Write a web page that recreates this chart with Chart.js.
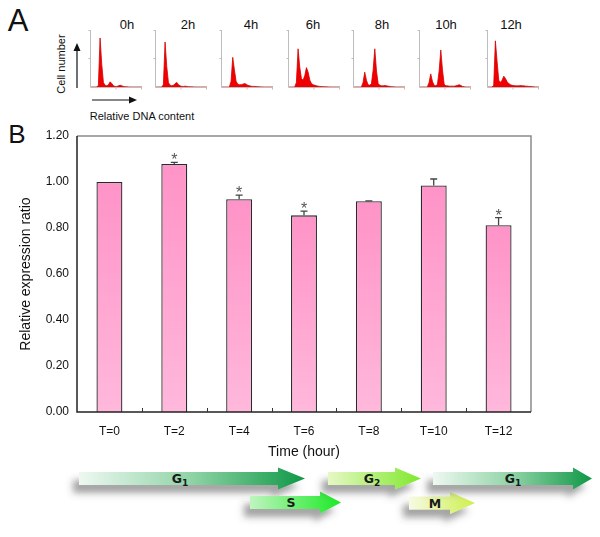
<!DOCTYPE html>
<html>
<head>
<meta charset="utf-8">
<script src="https://cdn.jsdelivr.net/npm/chart.js@4.4.1/dist/chart.umd.min.js"></script>
<style>
  html, body { margin: 0; padding: 0; background: #fff; }
  #page { position: relative; width: 600px; height: 537px; overflow: hidden;
          font-family: "Liberation Sans", Arial, sans-serif; color: #111; }
  .lbl { position: absolute; white-space: nowrap; transform: translate(-50%, -50%); }
  canvas { position: absolute; }
  svg { position: absolute; left: 0; top: 0; }
</style>
</head>
<body>
<div id="page">
  <div class="lbl" style="left:18px;top:21px;font-size:31px;">A</div>
  <div class="lbl" style="left:17px;top:134px;font-size:26px;">B</div>
  <div class="lbl" style="left:61px;top:64px;font-size:11px;transform:translate(-50%,-50%) rotate(-90deg);">Cell number</div>
  <div class="lbl" style="left:142px;top:116px;font-size:11px;">Relative DNA content</div>

  <svg width="600" height="537">
    <defs>
      <linearGradient id="gG1" x1="0" x2="1" y1="0" y2="0">
        <stop offset="0" stop-color="#eef8f1"/>
        <stop offset="0.5" stop-color="#8fd3a5"/>
        <stop offset="1" stop-color="#0e9846"/>
      </linearGradient>
      <linearGradient id="gS" x1="0" x2="1" y1="0" y2="0">
        <stop offset="0" stop-color="#c0f5c0"/>
        <stop offset="1" stop-color="#1bea24"/>
      </linearGradient>
      <linearGradient id="gG2" x1="0" x2="1" y1="0" y2="0">
        <stop offset="0" stop-color="#e6f8c4"/>
        <stop offset="1" stop-color="#7fe82c"/>
      </linearGradient>
      <linearGradient id="gM" x1="0" x2="1" y1="0" y2="0">
        <stop offset="0" stop-color="#f8fae4"/>
        <stop offset="1" stop-color="#cdf04c"/>
      </linearGradient>
      <filter id="sh" x="-20%" y="-60%" width="140%" height="260%">
        <feDropShadow dx="-6" dy="8" stdDeviation="3.5" flood-color="#444" flood-opacity="0.5"/>
      </filter>
    </defs>
    <!-- axis arrows of panel A -->
    <line x1="77" y1="88" x2="77" y2="50" stroke="#111" stroke-width="1.2"/>
    <polygon points="77,43 73.5,51 80.5,51" fill="#111"/>
    <line x1="92" y1="100" x2="130" y2="100" stroke="#111" stroke-width="1.2"/>
    <polygon points="137,100 129,96.5 129,103.5" fill="#111"/>
    <g id="phases"></g>
  </svg>

  <canvas id="bars" width="600" height="345" style="left:0;top:120px;width:600px;height:345px;"></canvas>
</div>

<script>
// panel B
const timeLabels = ['T=0', 'T=2', 'T=4', 'T=6', 'T=8', 'T=10', 'T=12'];
const ratio      = [1.00, 1.078, 0.925, 0.855, 0.916, 0.985, 0.812];
const ratioErr   = [0, 0.007, 0.018, 0.018, 0.002, 0.028, 0.033];
const signif     = ['', '*', '*', '*', '', '', '*'];

// panel A, flow cytometry histograms (cell count per DNA channel)
const hours    = ['0h', '2h', '4h', '6h', '8h', '10h', '12h'];
const channels = [0, 32, 64, 96, 128, 160, 192, 224, 256, 288, 320, 352, 384, 416, 448, 480,
                  512, 544, 576, 608, 640, 672, 704, 736, 768, 800, 832, 864, 896, 928, 960, 992];
const h0  = [0,0,0,0,0,3,86,40,8,3,2,4,9,6,2,1,1,2,3,2,1,0.5,0.3,0.2,0,0,0,0,0,0,0,0];
const h2  = [0,0,0,0,0,4,79,36,8,3,2,3,6,8,4,2,1,1,1.5,1,0.5,0.4,0.3,0.2,0.1,0,0,0,0,0,0,0];
const h4  = [0,0,0,0,0,0,10,52,30,10,5,4,4,5,6,5,3,2,1.5,1,1,0.8,0.5,0.3,0.2,0.1,0,0,0,0,0,0];
const h6  = [0,0,0,0,0,8,67,35,15,12,20,34,26,12,6,4,3,2,1.5,1,0.8,0.5,0.4,0.3,0.2,0.1,0,0,0,0,0,0];
const h8  = [0,0,0,0,0,0,8,26,12,4,3,6,30,67,28,6,3,2,2,2.5,2,1.5,1,0.5,0.3,0.2,0,0,0,0,0,0];
const h10 = [0,0,0,0,0,0,8,23,10,3,2,5,28,65,30,5,2,2,1.5,1.5,1.5,1.5,2,3,4,2.5,1,0.3,0,0,0,0];
const h12 = [0,0,0,0,3,81,45,12,8,12,19,15,9,6,4,3,2.5,2,2,2,2.5,2,2,1.5,1.5,1,1,0.5,0.3,0,0,0];
const histSeries = [h0, h2, h4, h6, h8, h10, h12];

// cell cycle phases under the x axis
const phaseNames = ['G', 'S', 'G', 'M', 'G'];
const phaseSubs  = ['1', '', '2', '', '1'];

const page = document.getElementById('page');

// ---- small histograms ----
const histLeft  = [90, 155, 221, 288, 353, 419, 487];
const titleX    = [127, 188, 251, 313, 382, 446, 511];

const histAxes = {
  id: 'histAxes',
  afterDraw(chart) {
    const { ctx, chartArea: a } = chart;
    ctx.save();
    ctx.strokeStyle = '#bdbdbd';
    ctx.lineWidth = 1;
    ctx.beginPath();
    ctx.moveTo(a.left + 0.5, a.top);
    ctx.lineTo(a.left + 0.5, a.bottom + 0.5);
    ctx.lineTo(a.right, a.bottom + 0.5);
    // tiny ticks
    ctx.moveTo(a.left - 1.5, a.top + 0.5); ctx.lineTo(a.left + 0.5, a.top + 0.5);
    ctx.moveTo(a.left - 1.5, (a.top + a.bottom) / 2); ctx.lineTo(a.left + 0.5, (a.top + a.bottom) / 2);
    ctx.moveTo((a.left + a.right) / 2, a.bottom + 0.5); ctx.lineTo((a.left + a.right) / 2, a.bottom + 2.5);
    ctx.moveTo(a.right - 0.5, a.bottom + 0.5); ctx.lineTo(a.right - 0.5, a.bottom + 2.5);
    ctx.stroke();
    ctx.restore();
  }
};

hours.forEach((h, i) => {
  const t = document.createElement('div');
  t.className = 'lbl';
  t.style.cssText = `left:${titleX[i]}px;top:24px;font-size:13px;`;
  t.textContent = h;
  page.appendChild(t);

  const c = document.createElement('canvas');
  c.width = 56; c.height = 62;
  c.style.cssText = `left:${histLeft[i] - 2}px;top:28px;width:56px;height:62px;`;
  page.appendChild(c);

  new Chart(c, {
    type: 'line',
    data: {
      labels: channels,
      datasets: [{
        data: histSeries[i],
        borderColor: '#d40000',
        borderWidth: 0.8,
        backgroundColor: '#f00000',
        fill: 'origin',
        pointRadius: 0,
        tension: 0
      }]
    },
    options: {
      responsive: false,
      animation: false,
      layout: { padding: { left: 2, top: 2, right: 2, bottom: 3 } },
      scales: {
        x: { display: false, offset: false },
        y: { display: false, min: 0, max: 100 }
      },
      plugins: { legend: { display: false }, tooltip: { enabled: false } }
    },
    plugins: [histAxes]
  });
});

// ---- bar chart ----
const frame = {
  id: 'frame',
  afterDatasetsDraw(chart) {
    const { ctx, chartArea: a, scales } = chart;
    ctx.save();
    // error bars and stars
    const meta = chart.getDatasetMeta(0);
    meta.data.forEach((bar, i) => {
      const yTop = scales.y.getPixelForValue(ratio[i] + ratioErr[i]);
      ctx.strokeStyle = '#444';
      ctx.lineWidth = 1.3;
      if (ratioErr[i] > 0) {
        ctx.beginPath();
        ctx.moveTo(bar.x, bar.y);
        ctx.lineTo(bar.x, yTop);
        ctx.moveTo(bar.x - 3.5, yTop);
        ctx.lineTo(bar.x + 3.5, yTop);
        ctx.stroke();
      }
      if (signif[i]) {
        ctx.fillStyle = '#555';
        ctx.font = '16px "Liberation Sans", Arial, sans-serif';
        ctx.textAlign = 'center';
        ctx.textBaseline = 'alphabetic';
        ctx.fillText(signif[i], bar.x, yTop + 3);
      }
    });
    // box
    ctx.lineWidth = 1.5;
    ctx.strokeStyle = '#8a8a8a';
    ctx.beginPath();
    ctx.moveTo(a.left, a.top);
    ctx.lineTo(a.right, a.top);
    ctx.lineTo(a.right, a.bottom);
    ctx.stroke();
    ctx.strokeStyle = '#222';
    ctx.beginPath();
    ctx.moveTo(a.left, a.top);
    ctx.lineTo(a.left, a.bottom);
    ctx.lineTo(a.right, a.bottom);
    ctx.stroke();
    // inner ticks between categories
    ctx.lineWidth = 1;
    ctx.strokeStyle = '#333';
    ctx.beginPath();
    for (let i = 0; i < timeLabels.length - 1; i++) {
      const x = Math.round((scales.x.getPixelForValue(i) + scales.x.getPixelForValue(i + 1)) / 2) + 0.5;
      ctx.moveTo(x, a.bottom);
      ctx.lineTo(x, a.bottom - 4);
    }
    ctx.stroke();
    ctx.restore();
  }
};

new Chart(document.getElementById('bars'), {
  type: 'bar',
  data: {
    labels: timeLabels,
    datasets: [{
      data: ratio,
      backgroundColor(ctx) {
        const chart = ctx.chart;
        const a = chart.chartArea;
        if (!a || ctx.raw == null) return '#ffa3d0';
        const top = chart.scales.y.getPixelForValue(ctx.raw);
        const g = chart.ctx.createLinearGradient(0, top, 0, a.bottom);
        g.addColorStop(0, '#ff93c7');
        g.addColorStop(1, '#ffb8db');
        return g;
      },
      borderColor: '#2a2a2a',
      borderWidth: 1.3,
      borderSkipped: 'bottom',
      categoryPercentage: 1,
      barPercentage: 0.4
    }]
  },
  options: {
    responsive: false,
    animation: false,
    layout: { padding: { top: 16, right: 69, left: 0, bottom: 0 } },
    scales: {
      x: {
        grid: { display: false, drawTicks: false },
        border: { display: false },
        ticks: { color: '#111', padding: 12, font: { size: 12, family: '"Liberation Sans", Arial, sans-serif' } },
        title: { display: true, text: 'Time (hour)', color: '#111', padding: { top: 0, bottom: 4 },
                 font: { size: 14, family: '"Liberation Sans", Arial, sans-serif' } },
        afterFit(scale) { scale.height = 53; }
      },
      y: {
        min: 0, max: 1.2,
        grid: { display: false, drawTicks: false },
        border: { display: false },
        ticks: { stepSize: 0.2, color: '#111', padding: 8,
                 font: { size: 12, family: '"Liberation Sans", Arial, sans-serif' },
                 callback: v => v.toFixed(2) },
        title: { display: true, text: 'Relative expression ratio', color: '#111', padding: { top: 18, bottom: 0 },
                 font: { size: 14, family: '"Liberation Sans", Arial, sans-serif' } },
        afterFit(scale) { scale.width = 77; }
      }
    },
    plugins: { legend: { display: false }, tooltip: { enabled: false } }
  },
  plugins: [frame]
});

// ---- phase arrows ----
const arrowGeom = [
  { x0: 79,  xh: 278, xt: 305, cy: 478.5, fill: 'gG1', tx: 180 },
  { x0: 250, xh: 320, xt: 341, cy: 502.5, fill: 'gS',  tx: 291 },
  { x0: 328, xh: 395, xt: 421, cy: 478.5, fill: 'gG2', tx: 372 },
  { x0: 409, xh: 450, xt: 475, cy: 503,   fill: 'gM',  tx: 435 },
  { x0: 433, xh: 573, xt: 592, cy: 478.5, fill: 'gG1', tx: 513 }
];
const NS = 'http://www.w3.org/2000/svg';
const grp = document.getElementById('phases');
arrowGeom.forEach((g, i) => {
  const p = document.createElementNS(NS, 'polygon');
  const b = 6.5, h = 11;
  p.setAttribute('points', [
    [g.x0, g.cy - b], [g.xh, g.cy - b], [g.xh, g.cy - h], [g.xt, g.cy],
    [g.xh, g.cy + h], [g.xh, g.cy + b], [g.x0, g.cy + b]
  ].map(q => q.join(',')).join(' '));
  p.setAttribute('fill', `url(#${g.fill})`);
  p.setAttribute('filter', 'url(#sh)');
  grp.appendChild(p);

  const t = document.createElementNS(NS, 'text');
  t.setAttribute('x', g.tx);
  t.setAttribute('y', g.cy + 4.5);
  t.setAttribute('text-anchor', 'middle');
  t.setAttribute('font-family', '"DejaVu Sans", sans-serif');
  t.setAttribute('font-weight', 'bold');
  t.setAttribute('font-size', '12.5');
  t.setAttribute('fill', '#1a1a1a');
  t.textContent = phaseNames[i];
  if (phaseSubs[i]) {
    const s = document.createElementNS(NS, 'tspan');
    s.setAttribute('dy', '3');
    s.setAttribute('font-size', '9');
    s.textContent = phaseSubs[i];
    t.appendChild(s);
  }
  grp.appendChild(t);
});
</script>
</body>
</html>
